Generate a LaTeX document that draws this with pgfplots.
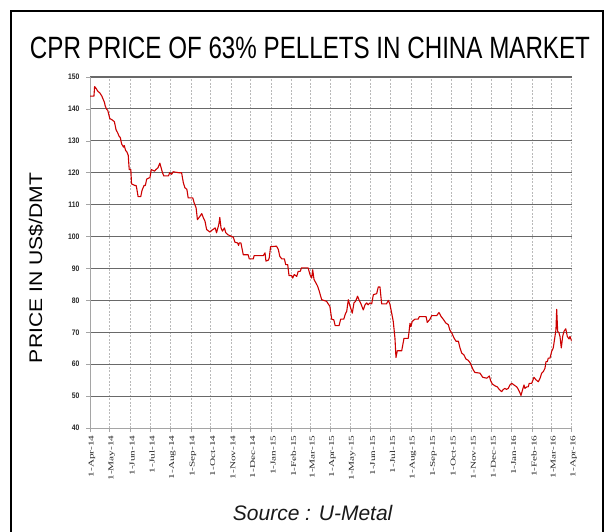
\documentclass[border=0pt]{standalone}
\usepackage{pgfplots}
\pgfplotsset{compat=1.18}
\usepackage{graphicx}
\usepackage{fontspec}
\setmainfont{Liberation Sans}
\newfontfamily\tickserif[FakeStretch=1.5]{Liberation Serif}
\newfontfamily\narrowsans[FakeStretch=0.85]{Liberation Sans}

\definecolor{pricered}{RGB}{204,0,0}
\definecolor{gridmajor}{RGB}{105,105,105}
\definecolor{gridminor}{RGB}{185,185,185}
\definecolor{axisgray}{RGB}{165,165,165}

\begin{document}
\begin{tikzpicture}
\path[use as bounding box] (0,0) rectangle (610pt,531pt);
% outer frame
\draw[line width=2pt, black] (11pt,-5pt) -- (11pt,520pt) -- (603pt,520pt) -- (603pt,-5pt);

\begin{axis}[
    at={(90pt,103pt)}, anchor=south west,
    scale only axis, width=481.7pt, height=351pt,
    xmin=0, xmax=731, ymin=40, ymax=150,
    axis x line*=bottom, axis y line*=left,
    axis line style={draw=axisgray, line width=0.9pt, -},
    ytick={50,60,...,150},
    extra y ticks={40},
    extra tick style={grid=none},
    xtick={0,30,61,91,122,153,183,214,244,275,306,334,365,395,426,456,487,518,548,579,609,640,671,700,731},
    xticklabels={1-Apr-14,1-May-14,1-Jun-14,1-Jul-14,1-Aug-14,1-Sep-14,1-Oct-14,1-Nov-14,1-Dec-14,1-Jan-15,1-Feb-15,1-Mar-15,1-Apr-15,1-May-15,1-Jun-15,1-Jul-15,1-Aug-15,1-Sep-15,1-Oct-15,1-Nov-15,1-Dec-15,1-Jan-16,1-Feb-16,1-Mar-16,1-Apr-16},
    tick align=outside, major tick length=4pt,
    tick style={draw=axisgray, line width=0.6pt},
    ymajorgrids, xmajorgrids,
    y grid style={draw=gridmajor, line width=1.1pt},
    x grid style={draw=gridminor, line width=0.6pt, dash pattern=on 2pt off 1.5pt},
    /pgf/number format/assume math mode=true,
    yticklabel style={font=\narrowsans\bfseries\fontsize{8}{8}\selectfont, text=black!85, xshift=-3pt},
    xticklabel style={font=\tickserif\fontsize{7.5}{7.5}\selectfont, text=black!85, rotate=90, anchor=east, yshift=-2pt},
]
\addplot[pricered, line width=1.1pt, line join=round] coordinates {
(0,144) (6,144) (7,147) (9,146.5) (12,145.5) (15,145) (18,144) (20,143) (22,142)
(23,141) (25,140) (27,139.5) (30,137) (34,136.5) (37,136) (38,135) (39.5,133.5)
(42,132.5) (44,131.5) (46,131) (48,129) (51,128) (52,128.5) (54,127) (56,126.5)
(58,125.5) (59.5,121) (62,121) (63,116.5) (68,116) (70,116) (71,115) (73,112.5)
(77,112.5) (79,114.5) (82,116) (84,116) (86,118) (91,118.5) (93,121) (98,120.5)
(100,121) (103,121.5) (106,123) (108,121.5) (110,120) (112,119) (117,119) (119,119)
(121,120) (124,119.5) (126,120.3) (135,120) (139,120) (141.6,116.9) (144,115.3)
(147,114.8) (149,112.1) (156,112.1) (158,110.6) (161,109) (163,105.3) (167,106.4)
(169.5,107.2) (172,105.9) (174.5,104.8) (177,102.2) (182,101.4) (185,102) (190,102.7)
(192,101.2) (195.5,103.8) (197,106) (198.8,102.7) (201,101.7) (204,102.7) (206,101.2)
(209,100.6) (212,100.3) (217.5,99.8) (220,98.2) (224,98) (225.5,97.2) (226.5,98)
(229,98) (232.6,94.3) (240,94.3) (241.7,93) (247.8,93) (249,94) (263,94) (265.6,94.9)
(267,92.3) (270.6,92.6) (272,93.3) (274,96.8) (283,97) (285.7,96) (288,93.8) (291,93)
(295,93) (297,91.2) (300,91.2) (302,87.8) (306,87.8) (307.6,87) (310,88.1) (313.7,87.5)
(316,89.1) (319,89.1) (321,90.2) (331,90.2) (333.8,88.1) (336.4,87) (337.9,89.6)
(340,86.5) (343,85.4) (345.5,84.4) (348,82.8) (351.6,80.2) (359,79.7) (364,78.1)
(366.8,74.1) (370,73.9) (372,72.1) (378,72.1) (380.4,74.1) (385,74.1) (388,76)
(389.5,76.5) (392,80.2) (394.5,78.3) (398,76) (400.6,79.2) (403,79.7) (406,81.3)
(408.6,80) (411,79) (414.7,77) (417.3,78.6) (420,79.2) (422,78.6) (425,79.2)
(427.5,78.9) (430,81.8) (435,82.1) (437.5,84.2) (440,84.2) (442.6,78.9) (450,78.9)
(452.7,80) (455,78.9) (457.8,76) (460.2,73.4) (462.8,68.1) (464.3,62.1) (466.3,64.2)
(473,64.2) (476.5,68.1) (483,68.1) (485.6,72.8) (487,71.8) (489,73.4) (493,74.1)
(498,74.1) (499.7,74.9) (510,74.9) (511.8,73.1) (516,74.1) (518.5,75.2) (526,75.2)
(529.6,76.2) (532.6,75) (536,74.1) (540,72.9) (543.7,72.4) (546.3,70.6) (549,69.8)
(552.4,68.2) (555.4,67.2) (559,67.2) (561.5,65.1) (564,63.5) (567.5,62.9) (570.6,61.6)
(574,61.2) (576.6,60.5) (579.2,59.3) (581.6,58.2) (584.2,57.4) (591.8,57.2) (596,55.9)
(602,55.6) (606,56.3) (608,54.8) (610.5,53.8) (614.6,53.2) (618,52.9) (621,52.1)
(624.7,51.4) (627.2,52.1) (629.7,52.4) (632,52.1) (634.7,52.4) (637.3,53.5) (640,54)
(643.4,53.5) (647.5,52.9) (650,52.1) (652.5,51) (654,50.2) (656.6,52.1) (658.6,53.5)
(660,52.4) (662.7,52.9) (665,52.9) (666.6,54) (670.3,54) (673.7,55.9) (676.8,55.1)
(680.3,54.5) (683,55.6) (685.4,57.2) (688,57.7) (690.4,58.7) (692,60.8) (694,60.8)
(695.4,61.9) (698,61.9) (700.6,64) (703,65.1) (705.6,68.7) (707.1,70.8) (708.2,77.2)
(709.7,70.3) (711.7,69.8) (713.2,68.7) (715.2,65.1) (717.3,68.7) (719.3,70.3)
(722,71.1) (724.3,68.7) (727,67.9) (728.4,68.7) (731,67.2)
};
\end{axis}

% title
\node[anchor=base, inner sep=0pt] at (310pt,472.4pt)
  {\resizebox{560pt}{21.5pt}{CPR PRICE OF 63\% PELLETS IN CHINA MARKET}};
% y label
\node[rotate=90, inner sep=0pt] at (36pt,263pt)
  {\resizebox{190pt}{13.5pt}{PRICE IN US\$/DMT}};
% source
\node[anchor=base west, inner sep=0pt, font=\fontsize{21}{21}\selectfont\itshape, text=black!90] at (232.7pt,10.3pt)
  {Source : U-Metal};
\end{tikzpicture}
\end{document}
